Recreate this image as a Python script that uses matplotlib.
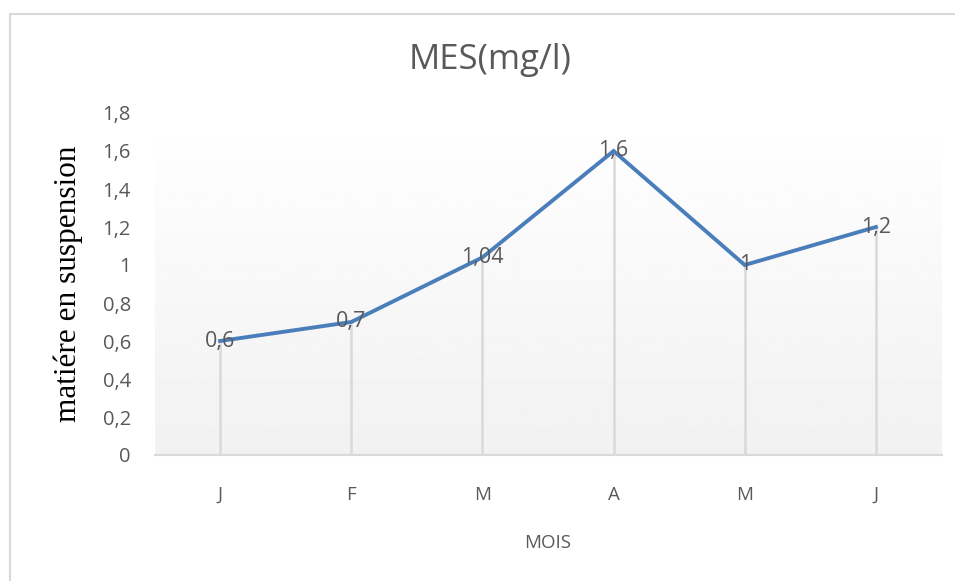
import numpy as np
import matplotlib.pyplot as plt
from matplotlib.patches import Rectangle

# data
mois = ['J', 'F', 'M', 'A', 'M', 'J']
mes = [0.6, 0.7, 1.04, 1.6, 1.0, 1.2]
labels = ['0,6', '0,7', '1,04', '1,6', '1', '1,2']
yticks = [0, 0.2, 0.4, 0.6, 0.8, 1.0, 1.2, 1.4, 1.6, 1.8]
yticklabels = ['0', '0,2', '0,4', '0,6', '0,8', '1', '1,2', '1,4', '1,6', '1,8']

font = 'Open Sans'
grey = '#595959'

fig = plt.figure(figsize=(9.55, 5.81), dpi=100)
# outer chart border
fig.patches.append(Rectangle((9.5 / 955, -0.1), 1.2, 0.1 + (581 - 13.5) / 581,
                             transform=fig.transFigure, fill=False,
                             edgecolor='#d9d9d9', linewidth=1.5))

ax = fig.add_axes([154.5 / 955, (581 - 455) / 581, 787 / 955, 342 / 581])
x = np.arange(len(mois))

# gradient background (white at top, light grey at bottom)
grad = np.linspace(1.0, 0.945, 256).reshape(-1, 1)
ax.imshow(grad, extent=[-0.5, len(mois) - 0.5, 0, 1.8], origin='upper',
          aspect='auto', cmap='gray', vmin=0, vmax=1, zorder=0)
ax.set_xlim(-0.5, len(mois) - 0.5)
ax.set_ylim(0, 1.8)

# drop lines
ax.vlines(x, 0, mes, color='#d9d9d9', linewidth=1.8, zorder=1)
ax.plot(x, mes, color='#4a7ebb', linewidth=2.8, solid_joinstyle='miter', zorder=2)

for xi, yi, lab in zip(x, mes, labels):
    ax.text(xi, yi, lab, ha='center', va='center', fontsize=15.5,
            color=grey, family=font, zorder=3)

for s in ['top', 'right', 'left']:
    ax.spines[s].set_visible(False)
ax.spines['bottom'].set_color('#d9d9d9')
ax.spines['bottom'].set_linewidth(1.5)

ax.set_xticks(x)
ax.set_xticklabels(mois, family=font, fontsize=13.5, color=grey)
ax.set_yticks(yticks)
ax.set_yticklabels(yticklabels, family=font, fontsize=14.5, color=grey)
ax.tick_params(axis='both', length=0)
ax.tick_params(axis='x', pad=22)
ax.tick_params(axis='y', pad=17)

fig.text(490 / 955, 1 - 60 / 581, 'MES(mg/l)', family=font, fontsize=25,
         color=grey, ha='center', va='center')
ax.set_xlabel('MOIS', family=font, fontsize=13.5, color=grey, labelpad=22)
ax.set_ylabel('matiére en suspension', family='Liberation Serif', fontsize=22.5,
              color='black', labelpad=14)

fig.savefig('out.png', dpi=100)
